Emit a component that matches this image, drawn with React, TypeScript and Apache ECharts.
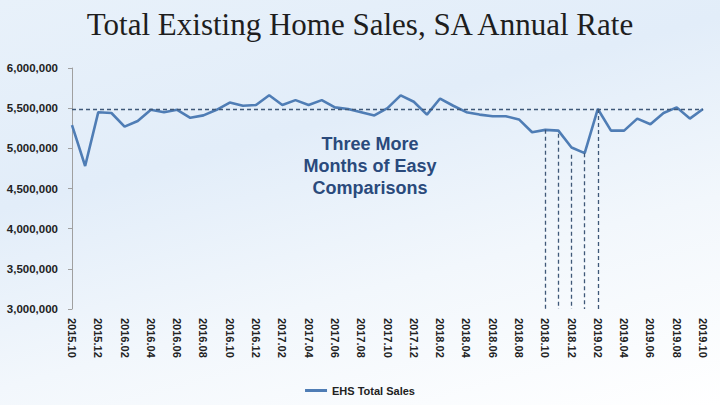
import React, { useEffect, useRef } from "react";
import * as echarts from "echarts";

const months: string[] = [
  "2015.10", "2015.11", "2015.12",
  "2016.01", "2016.02", "2016.03", "2016.04", "2016.05", "2016.06", "2016.07", "2016.08", "2016.09", "2016.10", "2016.11", "2016.12",
  "2017.01", "2017.02", "2017.03", "2017.04", "2017.05", "2017.06", "2017.07", "2017.08", "2017.09", "2017.10", "2017.11", "2017.12",
  "2018.01", "2018.02", "2018.03", "2018.04", "2018.05", "2018.06", "2018.07", "2018.08", "2018.09", "2018.10", "2018.11", "2018.12",
  "2019.01", "2019.02", "2019.03", "2019.04", "2019.05", "2019.06", "2019.07", "2019.08", "2019.09", "2019.10",
];

const ehsTotalSales: number[] = [
  5290000, 4780000, 5450000, 5440000, 5270000, 5340000, 5480000, 5450000, 5480000, 5380000, 5410000, 5480000, 5570000,
  5530000, 5540000, 5660000, 5540000, 5600000, 5540000, 5600000, 5510000, 5490000, 5450000, 5410000, 5500000,
  5660000, 5580000, 5420000, 5620000, 5530000, 5450000, 5420000, 5400000, 5400000, 5360000, 5200000,
  5230000, 5220000, 5010000, 4940000, 5490000, 5220000, 5220000, 5370000, 5300000, 5440000, 5510000, 5370000, 5490000,
];

const referenceLevel = 5490000;
const dropMonths: string[] = ["2018.10", "2018.11", "2018.12", "2019.01", "2019.02"];
const dropTops: number[] = [5230000, 5180000, 4920000, 4940000, 5490000];

const titleText = "Total Existing Home Sales, SA Annual Rate";
const noteText = "Three More\nMonths of Easy\nComparisons";
const seriesName = "EHS Total Sales";

export default function App() {
  const ref = useRef<HTMLDivElement>(null);
  useEffect(() => {
    if (!ref.current) return;
    const chart = echarts.init(ref.current, null, { renderer: "svg" });
    const dashStyle = { color: "#3f5878", width: 1.3, type: [4, 3] as any };
    chart.setOption({
      animation: false,
      title: {
        text: titleText,
        left: "center",
        top: 4,
        textStyle: {
          fontFamily: "Liberation Serif",
          fontWeight: "normal",
          fontSize: 31,
          color: "#1e1e1e",
        },
      },
      legend: {
        bottom: 4,
        left: "center",
        icon: "rect",
        itemWidth: 22,
        itemHeight: 3,
        textStyle: { fontFamily: "Liberation Sans", fontWeight: "bold", fontSize: 11, color: "#222" },
        data: [seriesName],
      },
      grid: { left: 72, right: 17, top: 68, bottom: 96 },
      xAxis: {
        type: "category",
        data: months,
        boundaryGap: false,
        axisLine: { show: false },
        axisTick: { show: false },
        axisLabel: {
          interval: 1,
          rotate: -90,
          margin: 9,
          fontFamily: "Liberation Sans",
          fontWeight: "bold",
          fontSize: 11,
          color: "#222",
        },
      },
      yAxis: {
        type: "value",
        min: 3000000,
        max: 6000000,
        interval: 500000,
        splitLine: { show: false },
        axisLine: { show: true, lineStyle: { color: "#a0a0a0" } },
        axisTick: { show: true, length: 4, lineStyle: { color: "#a0a0a0" } },
        axisLabel: {
          margin: 14,
          fontFamily: "Liberation Sans",
          fontWeight: "bold",
          fontSize: 11.5,
          color: "#222",
          formatter: (v: number) => v.toLocaleString("en-US"),
        },
      },
      series: [
        {
          name: seriesName,
          type: "line",
          data: ehsTotalSales,
          symbol: "none",
          lineStyle: { color: "#4f7db5", width: 2.6 },
          itemStyle: { color: "#4f7db5" },
          z: 3,
          markLine: {
            silent: true,
            symbol: "none",
            label: { show: false },
            lineStyle: dashStyle,
            data: [
              [
                { coord: [months[0], referenceLevel] },
                { coord: [months[months.length - 1], referenceLevel] },
              ],
              ...dropMonths.map((m, i) => [
                { coord: [m, dropTops[i]] },
                { coord: [m, 3000000] },
              ]),
            ],
          },
        },
      ],
      graphic: [
        {
          type: "text",
          x: 370,
          y: 133,
          style: {
            text: noteText,
            align: "center",
            verticalAlign: "top",
            fontFamily: "Liberation Sans",
            fontWeight: "bold",
            fontSize: 18,
            lineHeight: 22,
            fill: "#2a4a7c",
          },
        },
      ],
    });
    return () => chart.dispose();
  }, []);
  return (
    <div
      ref={ref}
      style={{
        position: "fixed",
        left: 0,
        top: 0,
        width: 720,
        height: 405,
        background: "linear-gradient(165deg, #e8f1fa 0%, #e2edf9 35%, #f2f7fc 65%, #ffffff 100%)",
      }}
    />
  );
}
